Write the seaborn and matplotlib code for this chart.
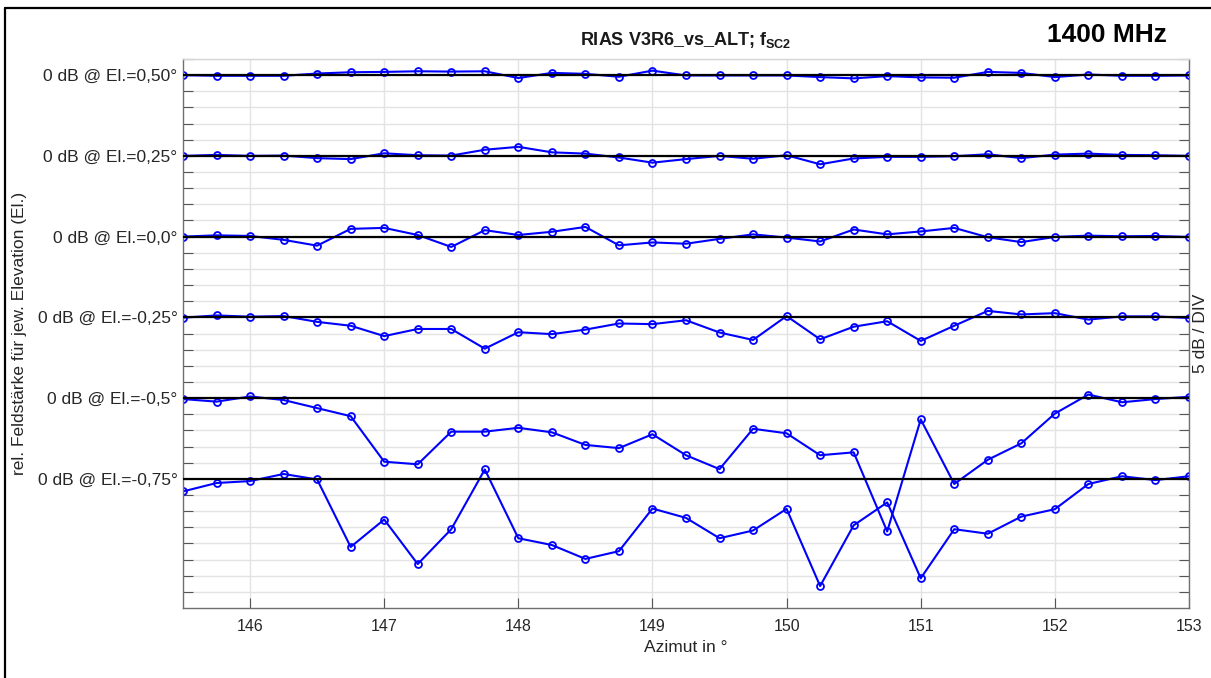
import matplotlib
matplotlib.use("Agg")
import matplotlib.pyplot as plt
from matplotlib.lines import Line2D
import numpy as np
import pandas as pd
import seaborn as sns

# Azimuth positions of the measurement (degrees)
azimuth = [145.5, 145.75, 146.0, 146.25, 146.5, 146.75, 147.0, 147.25, 147.5, 147.75,
           148.0, 148.25, 148.5, 148.75, 149.0, 149.25, 149.5, 149.75, 150.0, 150.25,
           150.5, 150.75, 151.0, 151.25, 151.5, 151.75, 152.0, 152.25, 152.5, 152.75, 153.0]

# Elevation angles, each drawn around its own 0 dB reference line
elevations = ["0,50", "0,25", "0,0", "-0,25", "-0,5", "-0,75"]

# Relative field strength in dB for each elevation
rel_050 = [0.0, -0.2, -0.2, -0.2, 0.5, 0.9, 1.0, 1.2, 1.1, 1.2,
           -0.9, 0.7, 0.4, -0.5, 1.4, -0.1, -0.1, -0.1, -0.1, -0.6,
           -1.0, -0.3, -0.7, -0.8, 1.0, 0.7, -0.6, 0.2, -0.2, -0.2, -0.1]
rel_025 = [0.0, 0.3, 0.0, 0.1, -0.7, -1.0, 0.8, 0.2, 0.1, 1.9,
           2.8, 1.1, 0.7, -0.5, -2.1, -1.0, 0.0, -0.9, 0.2, -2.6,
           -0.8, -0.3, -0.3, -0.1, 0.5, -0.7, 0.4, 0.7, 0.3, 0.2, 0.0]
rel_000 = [0.0, 0.4, 0.2, -1.0, -2.8, 2.4, 2.7, 0.5, -3.2, 2.0,
           0.5, 1.5, 3.0, -2.7, -1.8, -2.2, -0.7, 0.7, -0.3, -1.5,
           2.2, 0.7, 1.6, 2.7, -0.2, -1.7, -0.1, 0.3, 0.1, 0.2, -0.1]
rel_m025 = [-0.1, 0.6, 0.2, 0.4, -1.4, -2.6, -5.8, -3.6, -3.6, -9.7,
            -4.6, -5.2, -3.8, -1.9, -2.1, -0.9, -4.7, -7.0, 0.4, -6.8,
            -2.9, -1.2, -7.3, -2.6, 2.0, 0.9, 1.3, -0.7, 0.3, 0.3, -0.2]
rel_m050 = [-0.3, -1.1, 0.5, -0.6, -3.1, -5.6, -19.7, -20.5, -10.4, -10.4,
            -9.2, -10.6, -14.5, -15.5, -11.2, -17.7, -22.0, -9.5, -10.9, -17.7,
            -16.8, -41.3, -6.6, -26.6, -19.1, -14.0, -4.8, 1.1, -1.3, -0.3, 0.4]
rel_m075 = [-3.9, -1.3, -0.7, 1.5, -0.2, -21.1, -12.6, -26.4, -15.6, 2.9,
            -18.4, -20.5, -24.8, -22.4, -9.2, -12.1, -18.4, -16.0, -9.3, -33.2,
            -14.4, -7.3, -30.8, -15.6, -17.0, -11.7, -9.4, -1.6, 0.8, -0.4, 0.8]

series = [rel_050, rel_025, rel_000, rel_m025, rel_m050, rel_m075]
db_per_div = 5
divs_between = 5
step = db_per_div * divs_between

sns.set_theme(style="white")
plt.rcParams["font.family"] = ["Liberation Sans", "DejaVu Sans"]
plt.rcParams["mathtext.fontset"] = "custom"
plt.rcParams["mathtext.rm"] = "Liberation Sans"
plt.rcParams["mathtext.bf"] = "Liberation Sans:bold"

rows = []
for k, (el, vals) in enumerate(zip(elevations, series)):
    for az, v in zip(azimuth, vals):
        rows.append({"azimuth": az, "level": v - k * step, "elevation": el})
df = pd.DataFrame(rows)

W, H = 1211, 678
fig = plt.figure(figsize=(W / 100, H / 100), dpi=100)
ax = fig.add_axes([183 / W, 1 - 608 / H, (1189 - 183) / W, (608 - 59) / H])

sns.lineplot(data=df, x="azimuth", y="level", hue="elevation",
             palette=["#0000ff"] * len(elevations), legend=False, sort=False,
             marker="o", markersize=5, markerfacecolor="none",
             markeredgecolor="#0000ff", markeredgewidth=1.3,
             linewidth=1.5, ax=ax, zorder=2)

for k in range(len(elevations)):
    ax.axhline(-k * step, color="black", linewidth=1.6, zorder=3)

ax.set_xlim(145.5, 153)
ax.set_ylim(-165, 5)

ax.set_xticks([146, 147, 148, 149, 150, 151, 152, 153])
ax.set_xticklabels(["146", "147", "148", "149", "150", "151", "152", "153"])

yt = np.arange(-160, 5.1, db_per_div)
labels = []
for y in yt:
    k = -y / step
    if abs(k - round(k)) < 1e-9 and 0 <= round(k) < len(elevations):
        labels.append(f"0 dB @ El.={elevations[int(round(k))]}°")
    else:
        labels.append("")
ax.set_yticks(yt)
ax.set_yticklabels(labels)

ax.grid(True, color="#e3e3e3", linewidth=1.0, zorder=0)
ax.set_axisbelow(True)

ax.tick_params(axis="y", direction="in", length=7, width=0.8, color="#555555",
               labelsize=12.5, labelcolor="#262626", pad=4, right=True, left=True)
ax.tick_params(axis="x", direction="in", length=7, width=0.8, color="#555555",
               labelsize=11.5, labelcolor="#262626", pad=8, bottom=True)

for side in ["left", "bottom", "right"]:
    ax.spines[side].set_color("#707070")
    ax.spines[side].set_linewidth(1.0)
ax.spines["top"].set_color("#d6d6d6")
ax.spines["top"].set_linewidth(1.0)

ax.set_xlabel("Azimut in °", fontsize=12.5, color="#262626", labelpad=4)
ax.set_ylabel("")

fig.text(12 / W, 1 - 333 / H, "rel. Feldstärke für jew. Elevation (El.)",
         rotation=90, ha="left", va="center", fontsize=12.5, color="#262626")
fig.text(1208 / W, 1 - 333 / H, "5 dB / DIV",
         rotation=90, ha="right", va="center", fontsize=12.5, color="#262626")

fig.text(686 / W, 1 - 45 / H, r"RIAS V3R6_vs_ALT; f$_{\mathbf{SC2}}$",
         ha="center", va="baseline", fontsize=13, fontweight="bold", color="#1a1a1a")
fig.text(1047 / W, 1 - 42 / H, "1400 MHz", ha="left", va="baseline",
         fontsize=19, fontweight="bold", color="black")

# Outer frame around the figure
x0, y0 = 5 / W, 1 - 8 / H
fig.add_artist(Line2D([x0, 1.02], [y0, y0], transform=fig.transFigure,
                      color="black", linewidth=1.6))
fig.add_artist(Line2D([x0, x0], [-0.02, y0], transform=fig.transFigure,
                      color="black", linewidth=1.6))

fig.savefig("out.png", dpi=100)
